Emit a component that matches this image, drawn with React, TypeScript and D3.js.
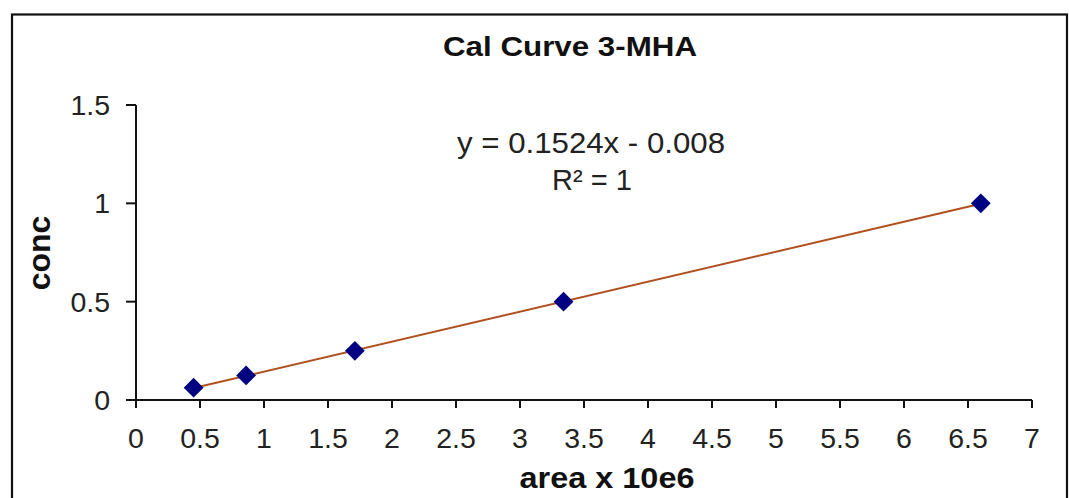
import React from "react";
import * as d3 from "d3";

const areas = [0.45, 0.86, 1.71, 3.34, 6.6];
const concs = [0.0625, 0.125, 0.25, 0.5, 1.0];
const xTicks = [0, 0.5, 1, 1.5, 2, 2.5, 3, 3.5, 4, 4.5, 5, 5.5, 6, 6.5, 7];
const yTicks = [0, 0.5, 1, 1.5];
const slope = 0.1524;
const intercept = -0.008;
const title = "Cal Curve 3-MHA";
const xTitle = "area x 10e6";
const yTitle = "conc";
const eqText = "y = 0.1524x - 0.008";
const r2Text = "R² = 1";

const W = 1069;
const H = 498;
const left = 136;
const right = 1032;
const top = 105;
const bottom = 400;

export default function App() {
  const x = d3.scaleLinear().domain([0, 7]).range([left, right]);
  const y = d3.scaleLinear().domain([0, 1.5]).range([bottom, top]);
  const xMin = d3.min(areas) as number;
  const xMax = d3.max(areas) as number;
  const trend = d3.line<number>()
    .x((d) => x(d))
    .y((d) => y(slope * d + intercept))([xMin, xMax]);
  const diamond = d3.symbol().type(d3.symbolDiamond2).size(250)();
  const font = "Arial, 'Liberation Sans', sans-serif";
  return (
    <svg
      width={W}
      height={H}
      style={{ position: "absolute", left: 0, top: 0, background: "#fff" }}
      fontFamily={font}
    >
      <rect x={12} y={14.5} width={1055} height={520} fill="#fff" stroke="#111" strokeWidth={2.2} />
      <text x={570} y={56} textAnchor="middle" fontWeight="bold" fontSize={28} fill="#111" textLength={254} lengthAdjust="spacingAndGlyphs">
        {title}
      </text>
      <line x1={left} x2={left} y1={top} y2={bottom} stroke="#111" strokeWidth={2} />
      <line x1={left} x2={right} y1={bottom} y2={bottom} stroke="#111" strokeWidth={2} />
      {yTicks.map((t) => (
        <g key={"y" + t}>
          <line x1={left - 10} x2={left} y1={y(t)} y2={y(t)} stroke="#111" strokeWidth={2} />
          <text x={110} y={y(t) + 10} textAnchor="end" fontSize={28.5} fill="#222">
            {String(t)}
          </text>
        </g>
      ))}
      {xTicks.map((t) => (
        <g key={"x" + t}>
          <line x1={x(t)} x2={x(t)} y1={bottom} y2={bottom + 8} stroke="#111" strokeWidth={2} />
          <text x={x(t)} y={448} textAnchor="middle" fontSize={28.5} fill="#222">
            {String(t)}
          </text>
        </g>
      ))}
      <text x={607} y={488} textAnchor="middle" fontWeight="bold" fontSize={30} fill="#111" textLength={175} lengthAdjust="spacingAndGlyphs">
        {xTitle}
      </text>
      <text transform={`translate(50,253) rotate(-90)`} textAnchor="middle" fontWeight="bold" fontSize={32} fill="#111">
        {yTitle}
      </text>
      <path d={trend || ""} fill="none" stroke="#B0501E" strokeWidth={2} />
      {areas.map((a, i) => (
        <path key={i} d={diamond || ""} transform={`translate(${x(a)},${y(concs[i])})`} fill="#000080" />
      ))}
      <text x={591} y={153} textAnchor="middle" fontSize={29} fill="#222" textLength={268} lengthAdjust="spacingAndGlyphs">
        {eqText}
      </text>
      <text x={592} y={190} textAnchor="middle" fontSize={29} fill="#222">
        {r2Text}
      </text>
    </svg>
  );
}
